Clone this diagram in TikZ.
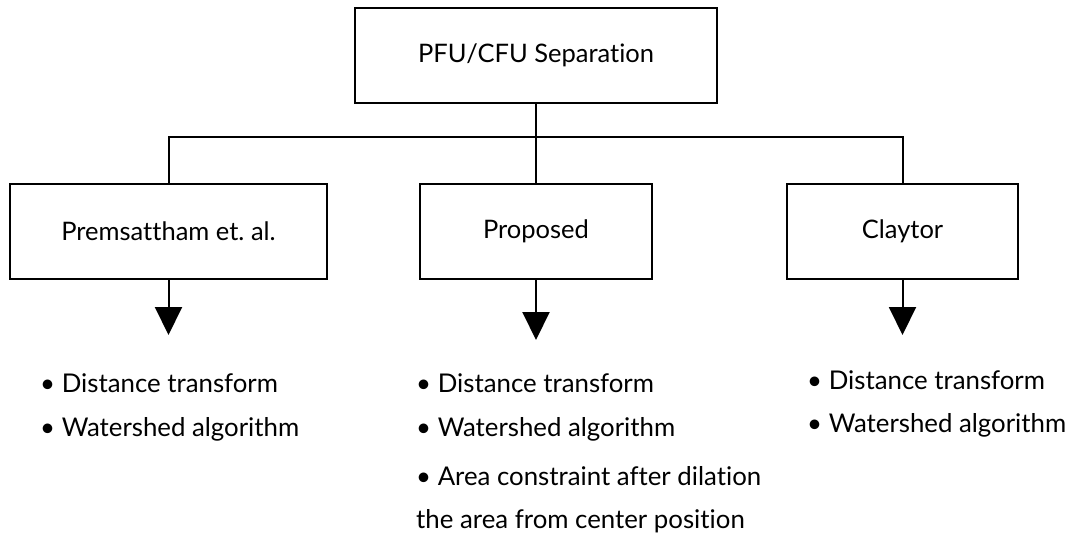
\documentclass[tikz,border=0pt]{standalone}
\usepackage{fontspec}
\setmainfont{Lato}[Ligatures={NoCommon,NoContextual}]
\usetikzlibrary{arrows.meta}
\begin{document}
\begin{tikzpicture}[x=1pt,y=-1pt,
  box/.style={draw,line width=2pt,minimum height=95pt,inner sep=0pt,font=\fontsize{25.5}{28}\selectfont},
  conn/.style={line width=2pt},
  arr/.style={line width=2pt,-{Triangle[length=28pt,width=27pt]}},
  item/.style={anchor=west,inner sep=0pt,font=\fontsize{25.8}{28}\selectfont}]
\useasboundingbox (0,0) rectangle (1073,539);
\node[box,minimum width=362pt] (top) at (536,55.5) {PFU/CFU Separation};
\node[box,minimum width=317pt] (a) at (168.5,231.5) {Premsattham et.\ al.};
\node[box,minimum width=232pt] (b) at (536,231.5) {Proposed};
\node[box,minimum width=231pt] (c) at (902.5,231.5) {Claytor};
\coordinate (bus) at (536,137);
\draw[conn] (top.south) -- (bus);
\draw[conn] (a.north) |- (bus) -| (c.north);
\draw[conn] (bus) -- (b.north);
\coordinate (ta) at (168.5,335);
\coordinate (tb) at (536,340);
\coordinate (tc) at (902.5,335);
\draw[arr] (a.south) -- (ta);
\draw[arr] (b.south) -- (tb);
\draw[arr] (c.south) -- (tc);
\node[item] (a1) at (40,383) {• Distance transform};
\node[item] (a2) at (40,429) {• Watershed algorithm};
\node[item] (b1) at (416,383) {• Distance transform};
\node[item] (b2) at (416,429) {• Watershed algorithm};
\node[item] (b3) at (416,476) {• Area constraint after dilation};
\node[item] (b4) at (416,521) {the area from center position};
\node[item] (c1) at (807,380) {• Distance transform};
\node[item] (c2) at (807,425) {• Watershed algorithm};
\end{tikzpicture}
\end{document}
